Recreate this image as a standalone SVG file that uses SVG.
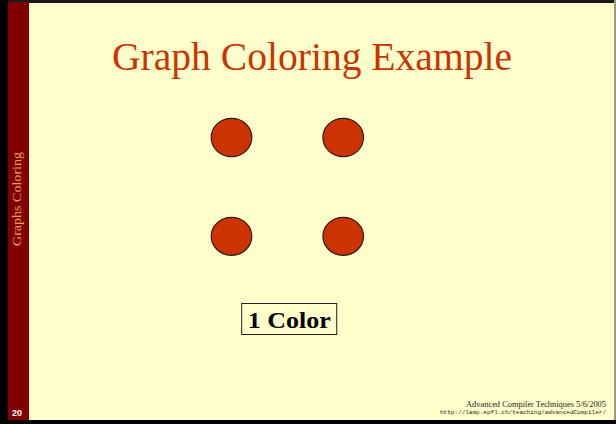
<svg xmlns="http://www.w3.org/2000/svg" width="616" height="424" viewBox="0 0 616 424">
<style>
.node{fill:#CC3300;stroke:#2a1a10;stroke-width:1.2}
.title{font-family:"Liberation Serif",serif;font-size:41px;fill:#CC3300}
.side{font-family:"Liberation Serif",serif;font-size:12px;fill:#E8A050}
</style>
<rect x="0" y="0" width="616" height="424" fill="#FFFFCC"/>
<rect x="0" y="0" width="616" height="3" fill="#1a1a1a"/>
<rect x="614" y="0" width="2" height="424" fill="#999988"/>
<rect x="0" y="0" width="8" height="424" fill="#000"/>
<rect x="0" y="420" width="616" height="4" fill="#000"/>
<rect x="8" y="2" width="21" height="418" fill="#800000"/>
<text class="side" transform="translate(21,246) rotate(-90)" textLength="94" lengthAdjust="spacingAndGlyphs">Graphs Coloring</text>
<text x="12" y="416" font-family="Liberation Sans,sans-serif" font-weight="bold" font-size="9" fill="#fff">20</text>
<text class="title" x="312" y="70" text-anchor="middle" textLength="400" lengthAdjust="spacingAndGlyphs">Graph Coloring Example</text>
<g id="connectors"/>
<g id="n1"><ellipse class="node" cx="231.5" cy="137.5" rx="20.3" ry="19.2"/></g>
<g id="n2"><ellipse class="node" cx="343.2" cy="137.5" rx="20.3" ry="19.2"/></g>
<g id="n3"><ellipse class="node" cx="231.5" cy="236.3" rx="20.3" ry="19"/></g>
<g id="n4"><ellipse class="node" cx="343.2" cy="236.3" rx="20.3" ry="19"/></g>
<g id="label">
<rect x="241.7" y="303.5" width="95" height="31" fill="#FFFFCC" stroke="#222" stroke-width="1"/>
<text x="289.2" y="327.5" text-anchor="middle" font-family="Liberation Serif,serif" font-weight="bold" font-size="23" fill="#000" textLength="83" lengthAdjust="spacingAndGlyphs">1 Color</text>
</g>
<text x="606" y="406.5" text-anchor="end" font-family="Liberation Serif,serif" font-size="9" fill="#222" textLength="140" lengthAdjust="spacingAndGlyphs">Advanced Compiler Techniques 5/6/2005</text>
<text x="606" y="413.5" text-anchor="end" font-family="Liberation Mono,monospace" font-size="6" fill="#222" textLength="166" lengthAdjust="spacingAndGlyphs">http://lamp.epfl.ch/teaching/advancedCompiler/</text>
</svg>
